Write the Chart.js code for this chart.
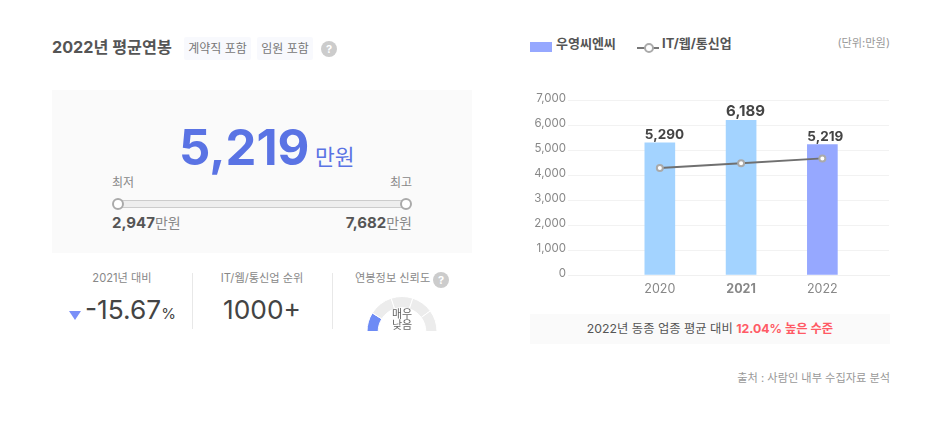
<!DOCTYPE html>
<html lang="ko">
<head>
<meta charset="utf-8">
<title>2022년 평균연봉</title>
<script src="https://cdn.jsdelivr.net/npm/chart.js@4"></script>
<style>
html, body { margin: 0; padding: 0; background: #fff; }
body { width: 948px; height: 431px; position: relative; overflow: hidden; font-family: Inter, "Noto Sans CJK KR", sans-serif; color: #555; }
.a { position: absolute; white-space: nowrap; line-height: 1; }
.tag { background: #f8f9fd; color: #777; font-size: 12px; height: 23px; line-height: 23px; text-align: center; border-radius: 2px; }
.help { width: 16px; height: 16px; line-height: 16px; border-radius: 50%; background: #ccc; color: #fff; font-size: 11px; font-weight: 700; text-align: center; }
.head { color: #888; font-size: 11.2px; transform: translateX(-50%); }
.rule { width: 1px; background: #e8e8e8; top: 273px; height: 56px; }
canvas { position: absolute; }
</style>
</head>
<body>
<div class="a" style="left:52px;top:39px;font-size:16.2px;font-weight:700">2022년 평균연봉</div>
<div class="a tag" style="left:184px;top:37px;width:67px">계약직 포함</div>
<div class="a tag" style="left:257px;top:37px;width:56px">임원 포함</div>
<div class="a help" style="left:321px;top:41px">?</div>

<div class="a" style="left:52px;top:90px;width:420px;height:163px;background:#fafafa"></div>
<div class="a" id="mainValue" style="left:179px;top:123px;font-size:49px;font-weight:700;color:#5a73e4"></div>
<div class="a" style="left:315px;top:147px;font-size:21.5px;color:#5a73e4">만원</div>
<div class="a" style="left:112px;top:177px;font-size:12px;color:#888">최저</div>
<div class="a" style="right:536px;top:177px;font-size:12px;color:#888">최고</div>
<div class="a" style="left:118px;top:200px;width:288px;height:6px;background:#eee;border:1px solid #ccc;border-radius:4px"></div>
<div class="a" style="left:112px;top:198px;width:8px;height:8px;background:#fff;border:2px solid #aaa;border-radius:50%"></div>
<div class="a" style="left:400px;top:198px;width:8px;height:8px;background:#fff;border:2px solid #aaa;border-radius:50%"></div>
<div class="a" style="left:112px;top:214px"><b id="lowValue" style="font-size:15px"></b><span style="font-size:14px;color:#888">만원</span></div>
<div class="a" style="right:536px;top:214px"><b id="highValue" style="font-size:15px"></b><span style="font-size:14px;color:#888">만원</span></div>

<div class="a head" style="left:122px;top:273px">2021년 대비</div>
<div class="a" style="left:69px;top:311px;width:0;height:0;border-left:6px solid transparent;border-right:6px solid transparent;border-top:9px solid #7a8ff8"></div>
<div class="a" style="left:85px;top:297px;font-size:26.3px;color:#444"><span id="yearChange"></span><span style="font-size:15px">%</span></div>
<div class="a rule" style="left:192px"></div>
<div class="a head" style="left:262px;top:273px">IT/웹/통신업 순위</div>
<div class="a" id="rank" style="left:262px;top:297px;font-size:26.3px;color:#444;transform:translateX(-50%)"></div>
<div class="a rule" style="left:332px"></div>
<div class="a" style="left:355px;top:273px;font-size:11.2px;color:#888">연봉정보 신뢰도</div>
<div class="a help" style="left:433px;top:272px">?</div>
<canvas id="gauge" width="72" height="36" style="left:366px;top:296px;width:72px;height:36px"></canvas>
<div class="a" style="left:402px;top:309px;font-size:11px;line-height:11px;text-align:center;color:#666;transform:translateX(-50%)">매우<br>낮음</div>

<div class="a" style="left:530px;top:42px;width:22px;height:10px;background:#96a8ff"></div>
<div class="a" id="companyName" style="left:556px;top:37px;font-size:13px;font-weight:700"></div>
<div class="a" style="left:637px;top:47px;width:22px;height:2px;background:#777"></div>
<div class="a" style="left:644px;top:43px;width:6px;height:6px;background:#fff;border:2px solid #aaa;border-radius:50%"></div>
<div class="a" id="industryName" style="left:662px;top:37px;font-size:13px;font-weight:700"></div>
<div class="a" style="right:58px;top:38px;font-size:11.2px;color:#999">(단위:만원)</div>

<canvas id="salaryChart" width="375" height="215" style="left:520px;top:90px;width:375px;height:215px"></canvas>

<div class="a" style="left:530px;top:314px;width:360px;height:30px;line-height:30px;background:#fafafa;text-align:center;font-size:12.3px">2022년 동종 업종 평균 대비 <b style="color:#ff5a65">12.04% 높은 수준</b></div>
<div class="a" style="right:58px;top:373px;font-size:11.2px;color:#999">출처 : 사람인 내부 수집자료 분석</div>

<script>
'use strict'
var years = [2020, 2021, 2022];
var companySalary = [5290, 6189, 5219];
var industrySalary = [4280, 4470, 4665];
var barColors = ['#a3d3ff', '#a3d3ff', '#96a8ff'];
var yearTicks = [0, 1000, 2000, 3000, 4000, 5000, 6000, 7000];
var gaugeSegments = [32, 40, 36, 36, 36];
var gaugeColors = ['#6d8bf5', '#ececec', '#ececec', '#ececec', '#ececec'];
var companyName = '우영씨엔씨';
var industryName = 'IT/웹/통신업';
var mainValue = 5219;
var lowValue = 2947;
var highValue = 7682;
var yearChange = '-15.67';
var rank = '1000+';
var fontStack = 'Inter, "Noto Sans CJK KR", sans-serif';

document.getElementById('mainValue').textContent = mainValue.toLocaleString('en-US');
document.getElementById('lowValue').textContent = lowValue.toLocaleString('en-US');
document.getElementById('highValue').textContent = highValue.toLocaleString('en-US');
document.getElementById('yearChange').textContent = yearChange;
document.getElementById('rank').textContent = rank;
document.getElementById('companyName').textContent = companyName;
document.getElementById('industryName').textContent = industryName;

// value labels sit on the left edge of each bar
var barLabels = {
    id: 'barLabels',
    afterDatasetsDraw: function (chart) {
        var ctx = chart.ctx;
        var bars = chart.getDatasetMeta(1).data;
        ctx.save();
        ctx.textAlign = 'left';
        ctx.textBaseline = 'alphabetic';
        ctx.fillStyle = '#444';
        bars.forEach(function (bar, i) {
            var big = years[i] === 2021;
            ctx.font = '700 ' + (big ? 15 : 13.5) + 'px ' + fontStack;
            ctx.fillText(companySalary[i].toLocaleString('en-US'), bar.x - 15, bar.y - 4);
        });
        ctx.restore();
    }
};

new Chart(document.getElementById('salaryChart'), {
    type: 'bar',
    data: {
        datasets: [{
            type: 'line',
            label: industryName,
            data: years.map(function (y, i) { return { x: y, y: industrySalary[i] }; }),
            borderColor: '#707070',
            borderWidth: 2,
            backgroundColor: '#fff',
            pointBackgroundColor: '#fff',
            pointBorderColor: '#aaa',
            pointBorderWidth: 2,
            pointRadius: 3,
            order: 1
        }, {
            label: companyName,
            data: years.map(function (y, i) { return { x: y, y: companySalary[i] }; }),
            backgroundColor: barColors,
            barThickness: 30,
            order: 2
        }]
    },
    plugins: [barLabels],
    options: {
        responsive: false,
        animation: false,
        layout: { padding: { top: 10 } },
        plugins: { legend: { display: false }, tooltip: { enabled: false } },
        scales: {
            x: {
                type: 'linear',
                offset: false,
                min: 2018.87,
                max: 2022.82,
                grid: { display: false, drawTicks: false },
                border: { color: '#f0f0f0' },
                afterBuildTicks: function (axis) {
                    axis.ticks = years.map(function (y) { return { value: y }; });
                },
                afterFit: function (axis) {
                    axis.height = 30;
                    axis.paddingLeft = 0;
                    axis.paddingRight = 0;
                },
                ticks: {
                    autoSkip: false,
                    maxRotation: 0,
                    color: '#888',
                    padding: 7,
                    callback: function (v) { return String(v); },
                    font: function (c) {
                        return { family: fontStack, size: 12.5, weight: c.tick && c.tick.value === 2021 ? '700' : '400' };
                    }
                }
            },
            y: {
                min: 0,
                max: 7000,
                grid: { color: '#f2f2f2', drawTicks: false },
                border: { display: false },
                afterBuildTicks: function (axis) {
                    axis.ticks = yearTicks.map(function (v) { return { value: v }; });
                },
                afterFit: function (axis) { axis.width = 48; },
                ticks: {
                    color: '#888',
                    padding: 2,
                    labelOffset: -1,
                    font: { family: fontStack, size: 11.5 },
                    callback: function (v) { return v.toLocaleString('en-US'); }
                }
            }
        }
    }
});

new Chart(document.getElementById('gauge'), {
    type: 'doughnut',
    data: {
        datasets: [{
            data: gaugeSegments,
            backgroundColor: gaugeColors,
            borderColor: '#fff',
            borderWidth: 1
        }]
    },
    options: {
        responsive: false,
        animation: false,
        rotation: -90,
        circumference: 180,
        cutout: '68%',
        plugins: { legend: { display: false }, tooltip: { enabled: false } }
    }
});
</script>
</body>
</html>
